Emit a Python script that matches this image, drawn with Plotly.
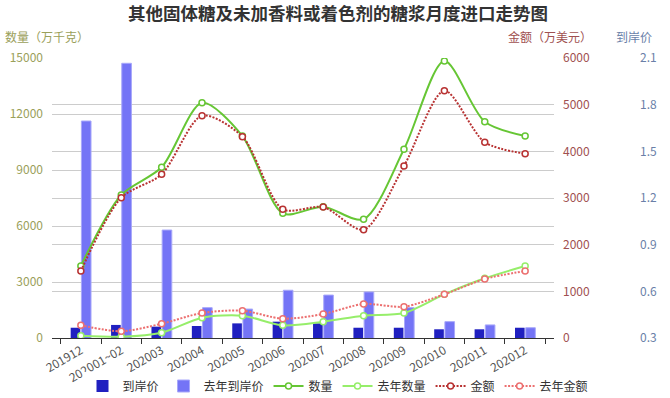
import plotly.graph_objects as go

categories = ["201912", "202001~02", "202003", "202004", "202005", "202006",
              "202007", "202008", "202009", "202010", "202011", "202012"]
price = [0.366, 0.384, 0.373, 0.377, 0.394, 0.405, 0.394, 0.366, 0.366, 0.356, 0.356, 0.366]
price_last = [1.695, 2.066, 0.994, 0.495, 0.486, 0.607, 0.576, 0.596, 0.495, 0.405, 0.384, 0.366]
qty = [3857, 7661, 9145, 12605, 10821, 6680, 7034, 6359, 10109, 14839, 11587, 10821]
qty_last = [123, 70, 284, 1088, 1195, 680, 873, 1195, 1339, 2341, 3198, 3857]
amount = [1436, 3006, 3508, 4764, 4314, 2758, 2807, 2321, 3686, 5300, 4194, 3950]
amount_last = [272, 144, 306, 536, 585, 414, 514, 729, 671, 936, 1264, 1436]

FONT = "Noto Sans CJK SC"
C_PRICE = "#2020c0"
C_PRICE_L = "#7474f6"
C_QTY = "#66c634"
C_QTY_L = "#96ee6a"
C_AMT = "#b83232"
C_AMT_L = "#ec7070"

fig = go.Figure()
fig.add_trace(go.Bar(x=categories, y=price, name="到岸价", marker_color=C_PRICE,
                     marker_line_width=0, yaxis="y"))
fig.add_trace(go.Bar(x=categories, y=price_last, name="去年到岸价", marker_color=C_PRICE_L,
                     marker_line_color="#a8a8fa", marker_line_width=1, yaxis="y"))

def line(y, name, color, dash, axis):
    return go.Scatter(x=categories, y=y, name=name, mode="lines+markers", yaxis=axis,
                      line=dict(color=color, width=2, dash=dash, shape="spline", smoothing=0.8),
                      marker=dict(symbol="circle", size=6, color="white",
                                  line=dict(color=color, width=1.5)))

fig.add_trace(line(qty, "数量", C_QTY, "solid", "y2"))
fig.add_trace(line(qty_last, "去年数量", C_QTY_L, "solid", "y2"))
fig.add_trace(line(amount, "金额", C_AMT, "2px,1.5px", "y3"))
fig.add_trace(line(amount_last, "去年金额", C_AMT_L, "2px,1.5px", "y3"))

W, H = 670, 398
L, R, T, B = 52, 12, 58, 60
pw = W - L - R
ph = H - T - B

def px_x(px):
    return (px - L) / pw

def px_y(py):
    return (H - B - py) / ph

fig.update_layout(
    width=W, height=H,
    margin=dict(l=L, r=R, t=T, b=B, autoexpand=False),
    paper_bgcolor="white", plot_bgcolor="white",
    font=dict(family=FONT, size=12, color="#555"),
    barmode="group", bargap=0.47, bargroupgap=0.1,
    title=dict(text="<b>其他固体糖及未加香料或着色剂的糖浆月度进口走势图</b>",
               x=338 / W, xref="container", xanchor="center",
               y=1 - 14 / H, yref="container", yanchor="middle",
               font=dict(family=FONT, size=17.5, color="#333")),
    xaxis=dict(domain=[0, (554 - L) / pw], type="category", tickangle=-30,
               ticks="outside", tickson="boundaries", ticklen=5, tickcolor="#333",
               showline=True, linecolor="#333", linewidth=1, showgrid=False,
               tickfont=dict(size=12, color="#555"), anchor="y"),
    yaxis=dict(range=[0.3, 2.1], tickvals=[0.3, 0.6, 0.9, 1.2, 1.5, 1.8, 2.1],
               tickformat=".1f", side="right", anchor="free", position=px_x(639),
               showgrid=False, zeroline=False, showline=False,
               tickfont=dict(size=12, color="#6a7fa8")),
    yaxis2=dict(range=[0, 15000], tickvals=[0, 3000, 6000, 9000, 12000, 15000],
                tickformat="d",
                overlaying="y", side="left", anchor="x", showgrid=True,
                gridcolor="#cccccc", zeroline=False, showline=False,
                ticklabelstandoff=8, tickfont=dict(size=12, color="#9aa05a")),
    yaxis3=dict(range=[0, 6000], tickvals=[0, 1000, 2000, 3000, 4000, 5000, 6000],
                tickformat="d",
                overlaying="y", side="right", anchor="x", showgrid=True,
                gridcolor="#cccccc", zeroline=False, showline=False,
                ticklabelstandoff=8, tickfont=dict(size=12, color="#a05050")),
    legend=dict(orientation="h", x=338 / W, xref="container", xanchor="center",
                y=(H - 386) / H, yref="container", yanchor="middle",
                font=dict(size=12, color="#333"), itemwidth=30,
                traceorder="normal"),
    showlegend=True,
    annotations=[
        dict(text="数量（万千克）", x=px_x(47), y=px_y(36), xref="paper", yref="paper",
             xanchor="center", yanchor="middle",
             showarrow=False, font=dict(size=12, color="#9aa05a")),
        dict(text="金额（万美元）", x=px_x(550), y=px_y(36), xref="paper", yref="paper",
             xanchor="center", yanchor="middle",
             showarrow=False, font=dict(size=12, color="#a05050")),
        dict(text="到岸价", x=px_x(634), y=px_y(36), xref="paper", yref="paper",
             xanchor="center", yanchor="middle",
             showarrow=False, font=dict(size=12, color="#6a7fa8")),
    ],
)

fig.write_html("out.html", config={"displayModeBar": False},
               post_script="document.body.style.margin='0px';document.body.style.overflow='hidden';")
